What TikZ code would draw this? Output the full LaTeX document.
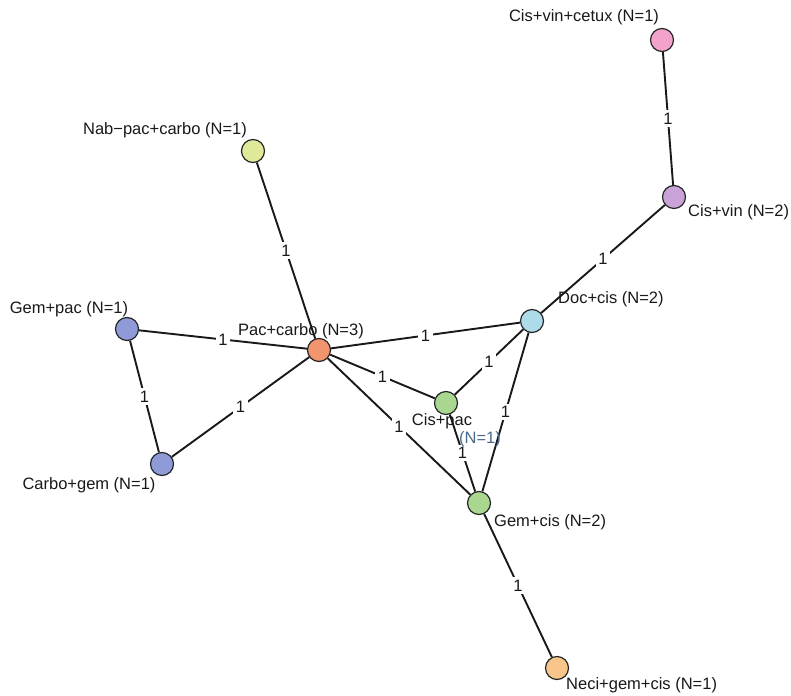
\documentclass[tikz,border=0pt]{standalone}
\usepackage{fontspec}
\setmainfont{Liberation Sans}
\begin{document}
\begin{tikzpicture}[x=1pt,y=-1pt,
  trt/.style={circle,draw=black!85,line width=1.2pt,minimum size=23pt,inner sep=0pt},
  lab/.style={font=\fontsize{16.5}{19}\selectfont,text=black!90,inner sep=0pt},
  edge/.style={line width=1.9pt,black!90},
  wt/.style={fill=white,font=\fontsize{16.5}{19}\selectfont,text=black!90,inner sep=2.5pt,midway}]
\useasboundingbox (0,0) rectangle (791,695);
\definecolor{cpink}{HTML}{F3A3CB}
\definecolor{cpurple}{HTML}{C9A3D8}
\definecolor{cblue}{HTML}{ACDCEA}
\definecolor{cyellow}{HTML}{E0E89A}
\definecolor{cviolet}{HTML}{8E9BD8}
\definecolor{corange}{HTML}{F2946E}
\definecolor{cgreen}{HTML}{A9D78F}
\definecolor{clorange}{HTML}{F8C68A}
\definecolor{cnblue}{HTML}{4A6A8A}
% nodes
\node[trt,fill=cpink] (cetux) at (662,40) {};
\node[trt,fill=cpurple] (vin) at (674,197) {};
\node[trt,fill=cblue] (doc) at (532,321) {};
\node[trt,fill=cyellow] (nab) at (253,151) {};
\node[trt,fill=cviolet] (gempac) at (127,329) {};
\node[trt,fill=corange] (pac) at (319,350) {};
\node[trt,fill=cviolet] (carbogem) at (162,464) {};
\node[trt,fill=cgreen] (cispac) at (446,403) {};
\node[trt,fill=cgreen] (gemcis) at (479,503) {};
\node[trt,fill=clorange] (neci) at (557,668) {};
% edges
\draw[edge] (cetux) -- node[wt]{1} (vin);
\draw[edge] (vin) -- node[wt]{1} (doc);
\draw[edge] (nab) -- node[wt]{1} (pac);
\draw[edge] (gempac) -- node[wt]{1} (pac);
\draw[edge] (gempac) -- node[wt]{1} (carbogem);
\draw[edge] (carbogem) -- node[wt]{1} (pac);
\draw[edge] (pac) -- node[wt]{1} (doc);
\draw[edge] (pac) -- node[wt]{1} (cispac);
\draw[edge] (pac) -- node[wt]{1} (gemcis);
\draw[edge] (cispac) -- node[wt]{1} (doc);
\draw[edge] (doc) -- node[wt]{1} (gemcis);
\draw[edge] (cispac) -- node[wt]{1} (gemcis);
\draw[edge] (gemcis) -- node[wt]{1} (neci);
% labels
\node[lab] (lcetux) at (584,17) {Cis+vin+cetux (N=1)};
\node[lab,anchor=west] (lvin) at (688,212) {Cis+vin (N=2)};
\node[lab,anchor=west] (ldoc) at (558,299) {Doc+cis (N=2)};
\node[lab] (lnab) at (165,130) {Nab\textminus pac+carbo (N=1)};
\node[lab] (lgempac) at (69,309) {Gem+pac (N=1)};
\node[lab] (lpac) at (301,331) {Pac+carbo (N=3)};
\node[lab] (lcarbogem) at (89,485) {Carbo+gem (N=1)};
\node[lab] (lcispac) at (442,421) {Cis+pac};
\node[lab,text=cnblue] (lcispacn) at (480,439) {(N=1)};
\node[lab,anchor=west] (lgemcis) at (494,522) {Gem+cis (N=2)};
\node[lab,anchor=west] (lneci) at (566,685) {Neci+gem+cis (N=1)};
\end{tikzpicture}
\end{document}
